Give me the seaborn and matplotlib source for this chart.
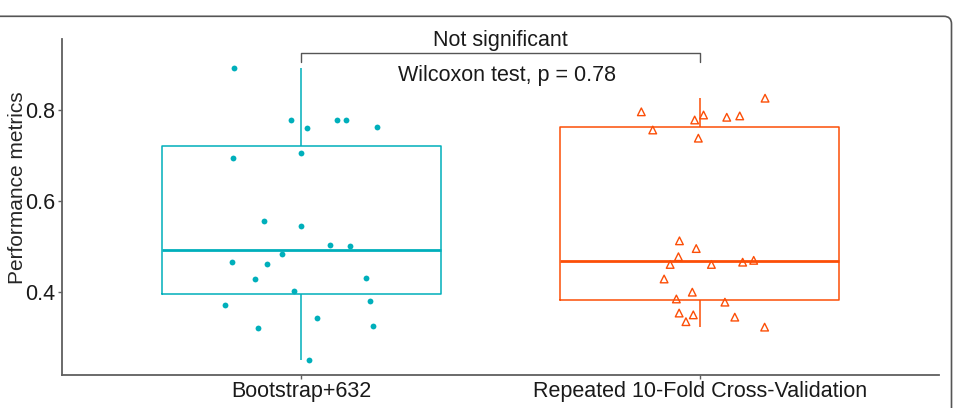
import numpy as np
import pandas as pd
import matplotlib
matplotlib.use("Agg")
import matplotlib.pyplot as plt
import matplotlib.patches as mpatches
import seaborn as sns

# values (performance per resample)
methods = ["Bootstrap+632", "Repeated 10-Fold Cross-Validation"]
boot632 = [0.892, 0.779, 0.779, 0.779, 0.763, 0.761, 0.706, 0.695, 0.556, 0.545,
           0.502, 0.501, 0.483, 0.466, 0.460, 0.430, 0.427, 0.401, 0.379, 0.370,
           0.341, 0.325, 0.321, 0.250]
cv10 = [0.826, 0.796, 0.789, 0.787, 0.784, 0.778, 0.756, 0.738, 0.512, 0.495,
        0.477, 0.469, 0.465, 0.460, 0.460, 0.428, 0.399, 0.384, 0.377, 0.353,
        0.349, 0.344, 0.334, 0.322]
colors = ["#00AFBB", "#FC4E07"]
sig_label = "Not significant"
test_label = "Wilcoxon test, p = 0.78"

df = pd.DataFrame({
    "method": [methods[0]] * len(boot632) + [methods[1]] * len(cv10),
    "value": boot632 + cv10,
})

sns.set_style("ticks")
plt.rcParams["font.family"] = ["Liberation Sans", "DejaVu Sans"]
axis_grey = "#5f5f5f"
fs = 15.5

fig = plt.figure(figsize=(9.55, 4.08), dpi=100)
ax = fig.add_axes([62 / 955, 1 - 374.5 / 408, 877 / 955, 335.5 / 408])

sns.boxplot(data=df, x="method", y="value", hue="method", order=methods,
            palette=colors, fill=False, width=0.7, showfliers=False,
            showcaps=False, whis=1.5, linewidth=1.1, legend=False,
            medianprops={"linewidth": 2.0}, ax=ax)

np.random.seed(7)
sns.stripplot(data=df[df.method == methods[0]], x="method", y="value",
              order=methods, color=colors[0], marker="o", size=4.2,
              jitter=0.2, linewidth=0, ax=ax)
sns.stripplot(data=df[df.method == methods[1]], x="method", y="value",
              order=methods, color=colors[1], marker="^", size=5.5,
              jitter=0.2, linewidth=1.0, edgecolor=colors[1], ax=ax)
ax.collections[-1].set_facecolor("none")

ax.set_xlim(-0.6, 1.6)
ax.set_ylim(0.2177, 0.9563)
ax.set_yticks([0.4, 0.6, 0.8])
ax.set_yticklabels(["0.4", "0.6", "0.8"])
ax.set_xlabel("")
ax.set_ylabel("Performance metrics", fontsize=15)
ax.yaxis.set_label_coords(-0.040, 0.556)

sns.despine(ax=ax)
for side in ["left", "bottom"]:
    ax.spines[side].set_color(axis_grey)
    ax.spines[side].set_linewidth(1.3)
ax.tick_params(axis="both", colors=axis_grey, labelcolor="#1a1a1a",
               labelsize=fs, length=3, width=1.0, pad=2)

# significance bracket and test label
ax.plot([0, 0, 1, 1], [0.905, 0.925, 0.925, 0.905], color="#555555",
        linewidth=1.0, clip_on=False)
ax.text(0.5, 0.954, sig_label, ha="center", va="center", fontsize=fs,
        color="#1a1a1a", clip_on=False)
ax.text(0.517, 0.8755, test_label, ha="center", va="center", fontsize=fs,
        color="#1a1a1a")

# rounded panel border of the journal figure
frame = mpatches.FancyBboxPatch((-0.05, -0.1), 0.05 + 951.5 / 955,
                                0.1 + (408 - 16.3) / 408,
                                boxstyle="round,pad=0,rounding_size=0.008",
                                mutation_aspect=2.34, transform=fig.transFigure,
                                facecolor="none", edgecolor="#555555",
                                linewidth=1.2, clip_on=False)
fig.patches.append(frame)

fig.savefig("out.png", dpi=100)
